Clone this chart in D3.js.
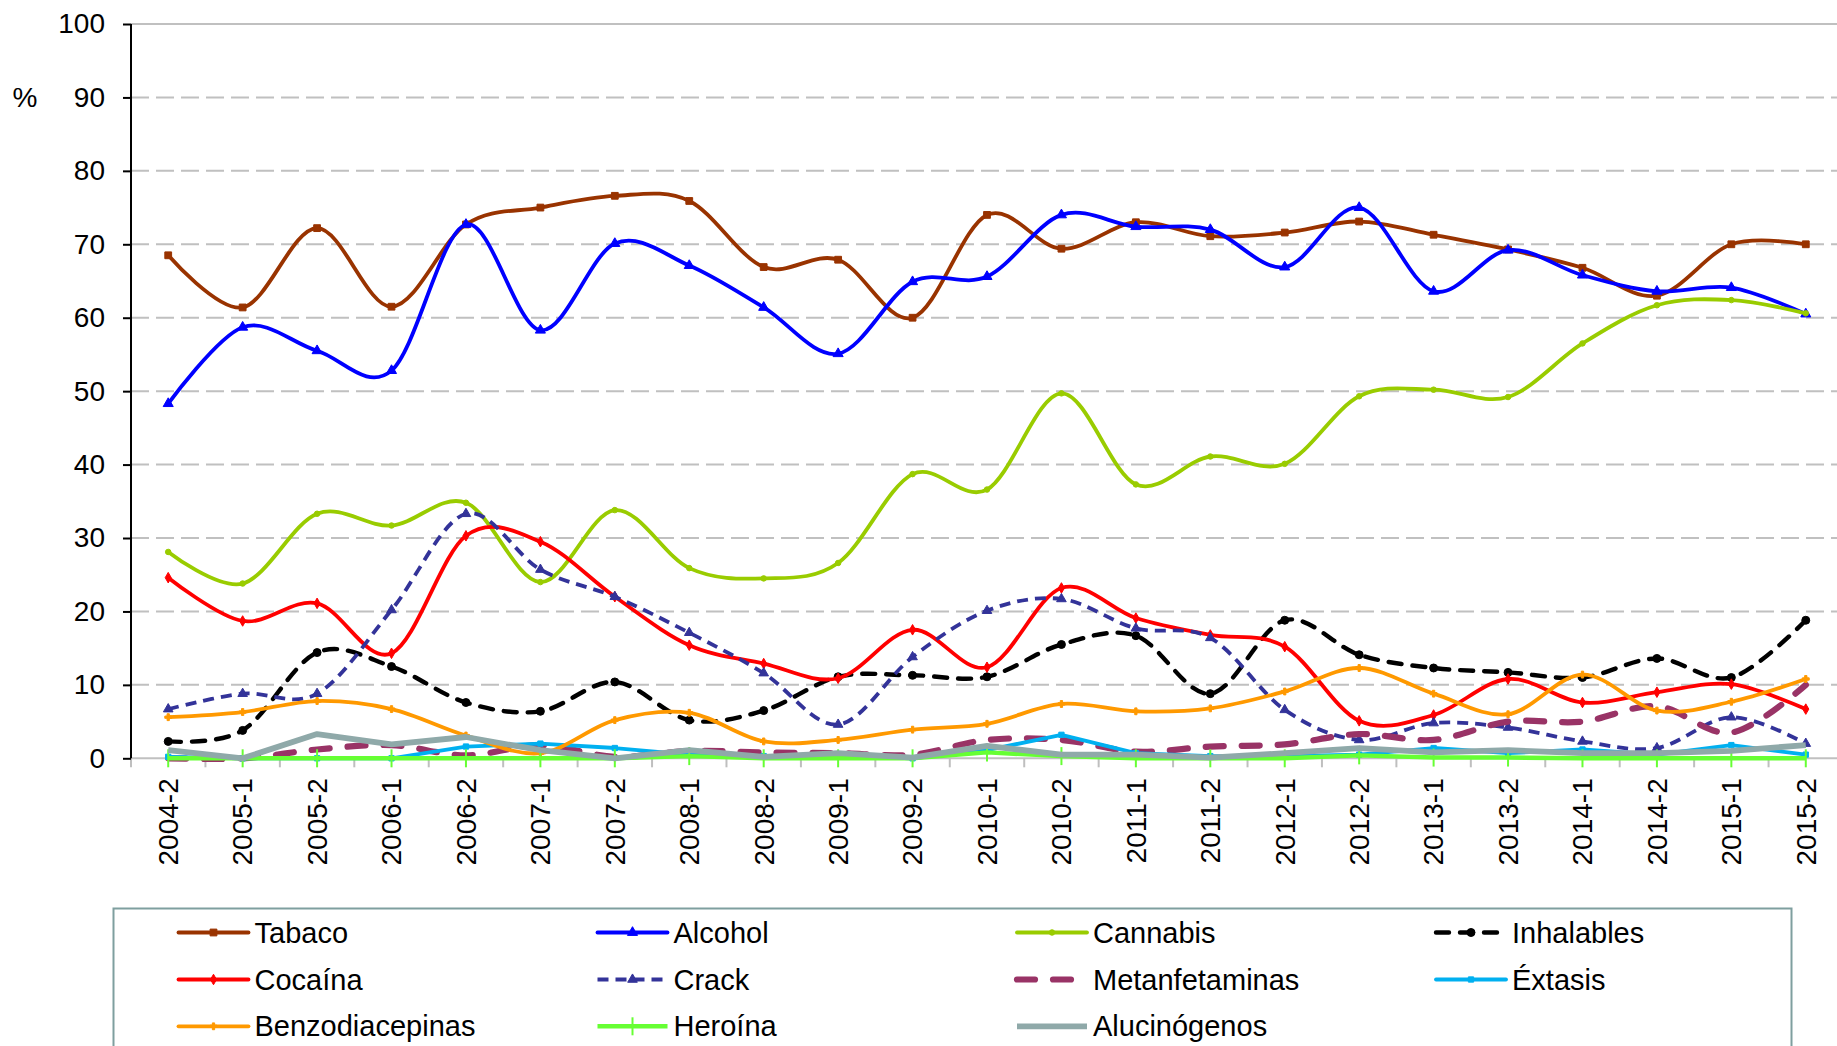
<!DOCTYPE html>
<html lang="es">
<head>
<meta charset="utf-8">
<title>Consumo de sustancias 2004-2015</title>
<script src="https://cdn.jsdelivr.net/npm/d3@7/dist/d3.min.js"></script>
<style>
  html, body { margin: 0; padding: 0; background: #ffffff; }
  svg { display: block; }
  text { font-family: "Liberation Sans", Arial, Helvetica, sans-serif; fill: #000; }
</style>
</head>
<body>
<svg id="chart" width="1837" height="1046"></svg>
<script>
// Semesters on the x axis
const periods = ["2004-2","2005-1","2005-2","2006-1","2006-2","2007-1","2007-2","2008-1","2008-2",
  "2009-1","2009-2","2010-1","2010-2","2011-1","2011-2","2012-1","2012-2","2013-1","2013-2",
  "2014-1","2014-2","2015-1","2015-2"];

// Y axis ticks (%)
const yTicks = [0,10,20,30,40,50,60,70,80,90,100];

// Series names, in legend order
const seriesNames = ["Tabaco","Alcohol","Cannabis","Inhalables","Cocaína","Crack",
  "Metanfetaminas","Éxtasis","Benzodiacepinas","Heroína","Alucinógenos"];

// Percentages per semester
const tabaco = [68.5,61.4,72.2,61.5,72.7,75.0,76.6,75.9,66.9,67.9,60.0,74.0,69.4,73.0,71.1,71.6,73.1,71.3,69.3,66.8,63.0,70.0,70.0];
const alcohol = [48.3,58.7,55.5,52.8,72.7,58.3,70.1,67.1,61.4,55.1,64.9,65.6,74.0,72.4,72.0,66.9,75.0,63.6,69.2,65.8,63.6,64.1,60.5];
const cannabis = [28.1,23.8,33.3,31.7,34.8,24.0,33.8,25.9,24.5,26.6,38.7,36.6,49.7,37.3,41.1,40.1,49.3,50.2,49.2,56.5,61.7,62.4,60.6];
const inhalables = [2.3,3.8,14.4,12.5,7.6,6.4,10.4,5.2,6.5,11.1,11.3,11.1,15.5,16.7,8.8,18.8,14.1,12.3,11.7,11.0,13.6,11.0,18.8];
const cocaina = [24.6,18.7,21.1,14.3,30.3,29.5,22.0,15.4,12.9,10.9,17.5,12.4,23.2,19.1,16.8,15.2,5.1,5.9,10.8,7.6,9.0,10.1,6.7];
const crack = [6.7,8.8,8.8,20.2,33.3,25.7,22.0,17.1,11.6,4.6,13.8,20.1,21.7,17.7,16.4,6.6,2.5,4.8,4.2,2.3,1.4,5.6,2.0];
const metanfetaminas = [0.0,0.0,1.2,1.8,0.4,1.8,0.2,1.0,0.8,0.7,0.5,2.5,2.5,0.9,1.6,1.9,3.3,2.5,5.0,5.0,7.1,3.5,10.0];
const extasis = [0.2,0.0,0.0,0.0,1.6,2.0,1.4,0.5,0.3,0.3,0.0,1.1,3.2,0.7,0.3,0.3,0.5,1.4,0.7,1.2,0.5,1.8,0.5];
const benzodiacepinas = [5.6,6.3,7.8,6.7,3.1,0.7,5.2,6.2,2.3,2.5,3.9,4.7,7.4,6.4,6.8,9.1,12.3,8.8,6.0,11.4,6.5,7.7,10.8];
const heroina = [0.0,0.0,0.0,0.0,0.0,0.0,0.0,0.3,0.0,0.0,0.0,0.8,0.3,0.0,0.0,0.0,0.4,0.1,0.1,0.0,0.0,0.0,0.0];
const alucinogenos = [1.1,0.0,3.3,1.9,2.9,1.1,0.0,1.1,0.2,0.7,0.1,1.7,0.5,0.5,0.1,0.7,1.4,0.8,1.1,0.7,0.7,1.0,1.8];

const seriesValues = [tabaco, alcohol, cannabis, inhalables, cocaina, crack,
  metanfetaminas, extasis, benzodiacepinas, heroina, alucinogenos];

// Drawing styles per series (same order as seriesNames)
const styles = [
  { color: "#993300", width: 3.8, dash: null, cap: "round", smooth: true,  marker: "square",   msize: 46 },
  { color: "#0000FF", width: 3.8, dash: null, cap: "round", smooth: true,  marker: "triangle", msize: 44 },
  { color: "#99CC00", width: 3.8, dash: null, cap: "round", smooth: true,  marker: "circle",   msize: 24 },
  { color: "#000000", width: 4.4, dash: "13 11", cap: "round", smooth: true, marker: "circle", msize: 50 },
  { color: "#FF0000", width: 3.8, dash: null, cap: "round", smooth: true,  marker: "diamond",  msize: 32 },
  { color: "#333399", width: 3.8, dash: "11 7", cap: "butt", smooth: true,  marker: "triangle", msize: 40 },
  { color: "#993366", width: 6.2, dash: "18 18", cap: "round", smooth: true, marker: null,     msize: 0 },
  { color: "#00B0F0", width: 3.8, dash: null, cap: "round", smooth: false, marker: "square",   msize: 28 },
  { color: "#FF9900", width: 3.8, dash: null, cap: "round", smooth: true,  marker: "cross",    msize: 26 },
  { color: "#66FF33", width: 4.4, dash: null, cap: "butt",  smooth: false, marker: "vtick",    msize: 0 },
  { color: "#8FA9A9", width: 5.8, dash: null, cap: "butt",  smooth: false, marker: null,       msize: 0 }
];

const W = 1837, H = 1046;
const plotLeft = 131, plotRight = 1843, plotTop = 24, plotBottom = 758.3;

const svg = d3.select("#chart");
svg.append("rect").attr("width", W).attr("height", H).attr("fill", "#fff");

const x = d3.scaleBand().domain(periods).range([plotLeft, plotRight]).paddingInner(0).paddingOuter(0);
const y = d3.scaleLinear().domain([0, 100]).range([plotBottom, plotTop]);
const cx = d => x(d) + x.bandwidth() / 2;

// Horizontal gridlines
const grid = svg.append("g");
grid.selectAll("line").data(yTicks).join("line")
  .attr("x1", plotLeft).attr("x2", W)
  .attr("y1", d => y(d)).attr("y2", d => y(d))
  .attr("stroke", "#c0c0c0").attr("stroke-width", 2)
  .attr("stroke-dasharray", d => (d === 0 || d === 100) ? null : "18 7");

// X axis: ticks between semesters, rotated labels
const xAxis = d3.axisBottom(x).tickSize(0).tickPadding(0);
const gx = svg.append("g").attr("transform", `translate(0,${plotBottom})`).call(xAxis);
gx.select(".domain").remove();
gx.selectAll("text")
  .attr("transform", "rotate(-90)")
  .attr("x", -20).attr("y", 0).attr("dy", "0.35em")
  .attr("text-anchor", "end")
  .style("font-size", "28px")
  .style("font-family", "'Liberation Sans', Arial, sans-serif");
const bounds = periods.map(p => x(p)).concat([plotRight]);
svg.append("g").selectAll("line").data(bounds).join("line")
  .attr("x1", d => d).attr("x2", d => d)
  .attr("y1", plotBottom).attr("y2", plotBottom + 9)
  .attr("stroke", "#bfbfbf").attr("stroke-width", 2);

// Y axis
const yAxis = d3.axisLeft(y).tickValues(yTicks).tickSize(8).tickPadding(18);
const gy = svg.append("g").attr("transform", `translate(${plotLeft},0)`).call(yAxis);
gy.select(".domain").attr("stroke", "#000").attr("stroke-width", 2)
  .attr("d", `M0,${plotTop}V${plotBottom}`);
gy.selectAll(".tick line").attr("stroke", "#000").attr("stroke-width", 2);
gy.selectAll("text").style("font-size", "28px")
  .style("font-family", "'Liberation Sans', Arial, sans-serif");

svg.append("text").attr("x", 25).attr("y", y(90)).attr("dy", "0.35em")
  .attr("text-anchor", "middle").style("font-size", "28px").text("%");

// Marker helper
function markerPath(kind, size) {
  const map = { square: d3.symbolSquare, triangle: d3.symbolTriangle, circle: d3.symbolCircle,
                diamond: d3.symbolDiamond, cross: d3.symbolCross };
  return d3.symbol().type(map[kind]).size(size)();
}
function drawMarker(g, st, px, py) {
  if (!st.marker) return;
  if (st.marker === "vtick") {
    g.append("line").attr("x1", px).attr("x2", px).attr("y1", py - 9).attr("y2", py + 9)
      .attr("stroke", st.color).attr("stroke-width", 2);
    return;
  }
  g.append("path").attr("d", markerPath(st.marker, st.msize))
    .attr("transform", `translate(${px},${py})`)
    .attr("fill", st.color).attr("stroke", st.color).attr("stroke-width", 1);
}

// Series lines
const lines = svg.append("g");
seriesNames.forEach((name, i) => {
  const st = styles[i];
  const vals = seriesValues[i];
  const pts = periods.map((p, j) => [cx(p), y(vals[j])]);
  const gen = d3.line().curve(st.smooth ? d3.curveCardinal.tension(0) : d3.curveLinear);
  const g = lines.append("g").attr("class", "series");
  g.append("path").attr("d", gen(pts))
    .attr("fill", "none").attr("stroke", st.color).attr("stroke-width", st.width)
    .attr("stroke-linecap", st.cap).attr("stroke-linejoin", "round")
    .attr("stroke-dasharray", st.dash);
  pts.forEach(([px, py]) => drawMarker(g, st, px, py));
});

// Legend
const legX = 113.5, legY = 908.5;
svg.append("rect").attr("x", legX).attr("y", legY).attr("width", 1678).attr("height", 200)
  .attr("fill", "none").attr("stroke", "#7f9f9f").attr("stroke-width", 2);
const colX = [178.5, 597.5, 1017, 1436];
const rowY = [932.5, 979.5, 1026.3];
const legend = svg.append("g");
seriesNames.forEach((name, i) => {
  const st = styles[i];
  const lx = colX[i % 4], ly = rowY[Math.floor(i / 4)];
  const g = legend.append("g");
  g.append("line").attr("x1", lx).attr("x2", lx + 70).attr("y1", ly).attr("y2", ly)
    .attr("stroke", st.color).attr("stroke-width", st.width)
    .attr("stroke-linecap", st.cap).attr("stroke-dasharray", st.dash);
  drawMarker(g, st, lx + 35, ly);
  g.append("text").attr("x", lx + 76).attr("y", ly).attr("dy", "0.35em")
    .style("font-size", "29px").text(name);
});
</script>
</body>
</html>
